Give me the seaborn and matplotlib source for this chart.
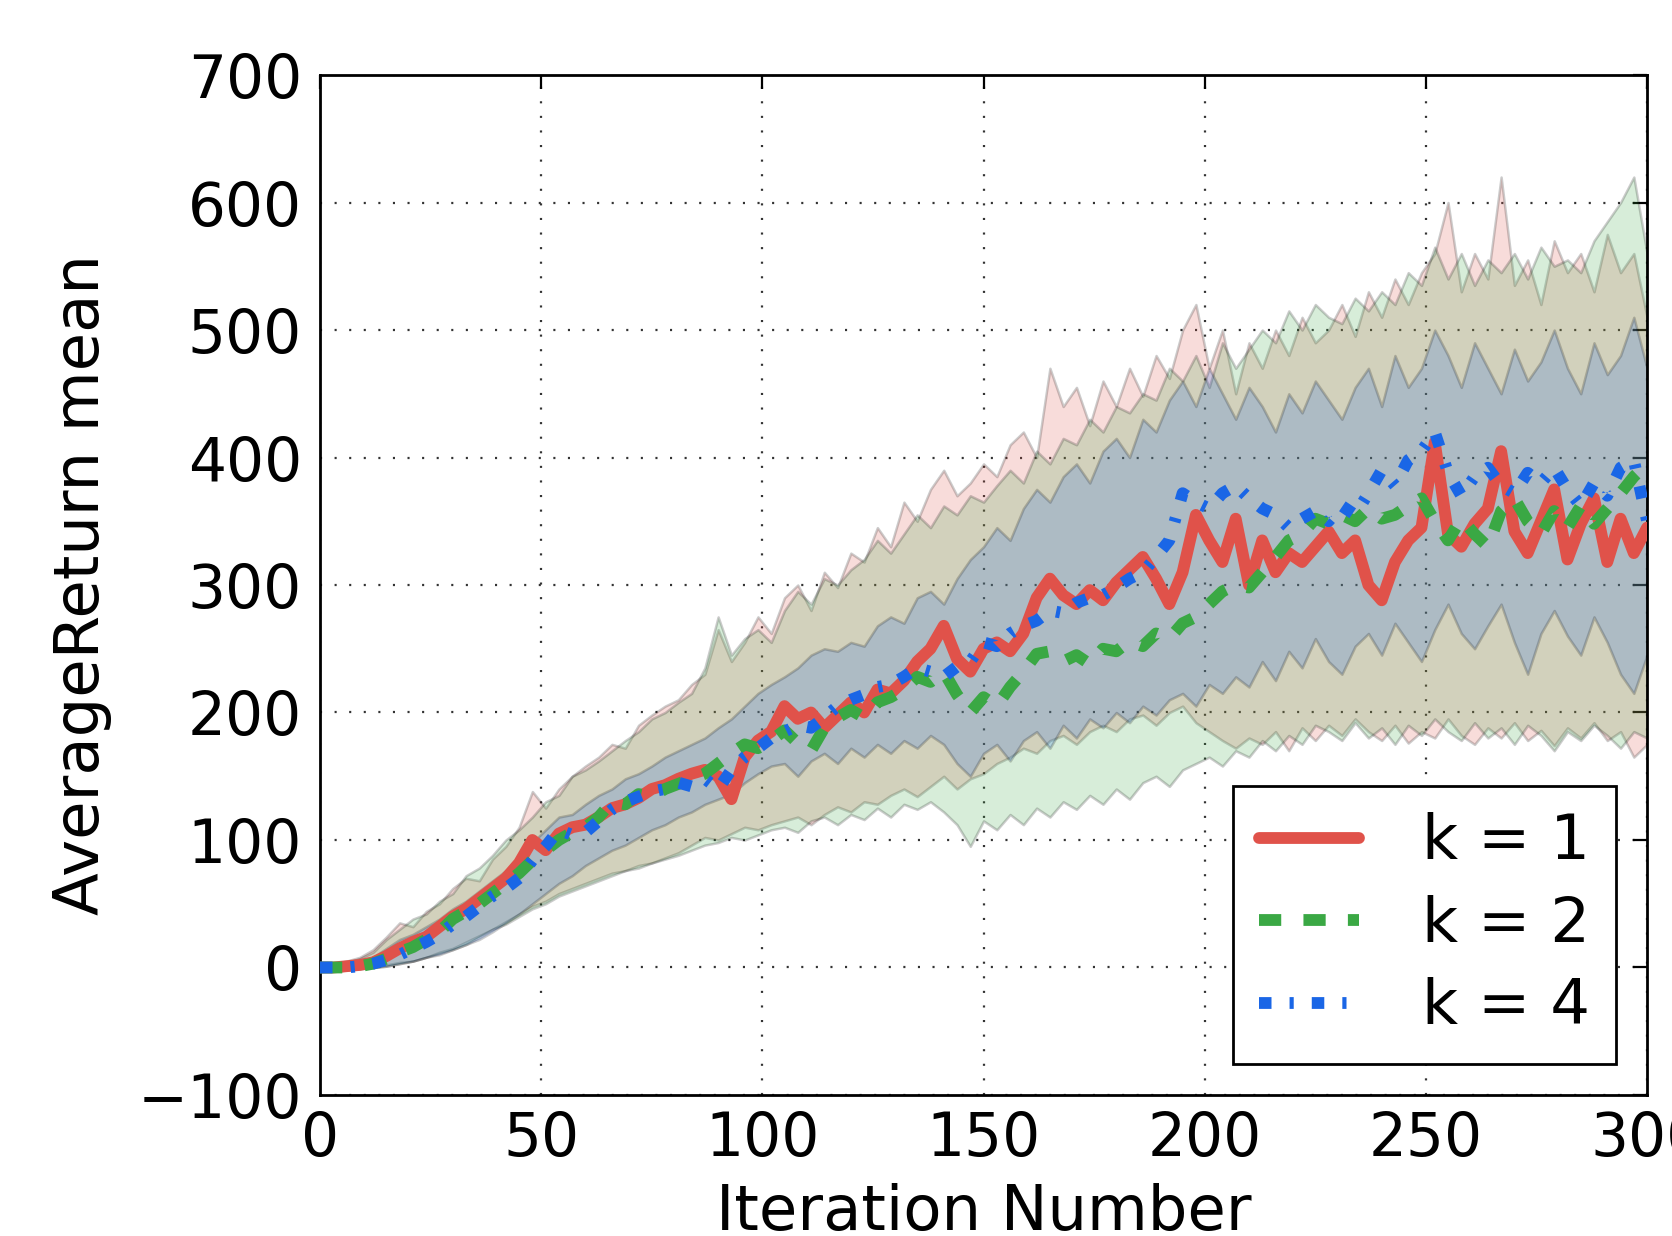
import matplotlib
matplotlib.use("Agg")
import matplotlib.pyplot as plt
import numpy as np
import pandas as pd
import seaborn as sns

# ---------------- data (every 3 iterations) ----------------
iterations = list(range(0, 301, 3))

k1_mean = [0, 0, 1, 2, 4, 9, 15, 20, 24, 32,
           40, 46, 54, 62, 70, 82, 100, 92, 105, 110,
           112, 118, 125, 128, 133, 140, 143, 148, 152, 155,
           150, 132, 165, 178, 185, 205, 195, 200, 188, 198,
           208, 200, 218, 215, 225, 240, 250, 268, 242, 232,
           250, 255, 248, 262, 290, 305, 292, 285, 296, 288,
           302, 312, 322, 305, 285, 310, 355, 335, 318, 352,
           300, 335, 310, 325, 318, 330, 342, 325, 335, 300,
           288, 318, 335, 345, 412, 340, 330, 348, 360, 405,
           342, 325, 350, 375, 320, 348, 368, 318, 352, 325,
           345]
k2_mean = [0, 0, 0, 1, 3, 7, 12, 16, 22, 28,
           38, 44, 50, 58, 66, 74, 84, 92, 100, 106,
           110, 118, 130, 128, 136, 134, 140, 144, 148, 152,
           160, 168, 175, 172, 178, 186, 176, 170, 188, 196,
           202, 196, 208, 212, 218, 228, 224, 232, 214, 200,
           212, 205, 220, 232, 246, 248, 240, 245, 238, 250,
           248, 256, 252, 262, 258, 270, 275, 285, 295, 300,
           298, 310, 322, 335, 340, 352, 348, 355, 350, 360,
           352, 355, 362, 368, 350, 335, 352, 340, 330, 358,
           368, 350, 340, 358, 345, 362, 348, 360, 372, 385,
           395]
k4_mean = [0, 0, 0, 1, 3, 6, 10, 15, 20, 26,
           34, 40, 48, 56, 62, 70, 84, 95, 108, 104,
           106, 115, 124, 130, 134, 138, 140, 145, 142, 148,
           140, 155, 165, 172, 180, 185, 190, 188, 196, 205,
           210, 214, 220, 222, 228, 235, 232, 228, 236, 240,
           255, 252, 262, 268, 272, 280, 278, 286, 290, 292,
           298, 305, 310, 322, 335, 372, 365, 360, 372, 378,
           368, 360, 355, 345, 352, 358, 350, 362, 355, 372,
           390, 378, 398, 405, 420, 388, 370, 385, 392, 378,
           372, 388, 380, 392, 375, 362, 380, 370, 392, 398,
           350]

k1_upper = [2, 3, 5, 8, 14, 24, 35, 32, 44, 50,
            62, 70, 68, 85, 95, 110, 138, 125, 140, 150,
            158, 165, 175, 172, 190, 198, 205, 210, 222, 230,
            265, 240, 255, 275, 262, 290, 300, 280, 310, 298,
            325, 318, 345, 330, 365, 350, 375, 390, 370, 380,
            395, 385, 410, 420, 400, 470, 440, 455, 425, 460,
            440, 470, 448, 480, 462, 500, 520, 470, 500, 450,
            490, 470, 500, 480, 510, 490, 500, 520, 495, 530,
            510, 540, 520, 545, 560, 600, 530, 560, 540, 620,
            535, 555, 520, 570, 545, 560, 530, 575, 545, 560,
            510]
k1_lower = [-3, -3, -2, -1, 0, 2, 4, 5, 8, 12,
            15, 20, 25, 30, 36, 42, 48, 52, 58, 62,
            66, 70, 74, 76, 80, 82, 86, 90, 96, 102,
            100, 105, 110, 108, 112, 115, 118, 112, 120, 126,
            122, 130, 128, 135, 140, 134, 142, 150, 140, 148,
            152, 160, 165, 172, 168, 178, 182, 175, 185, 190,
            185, 195, 198, 190, 200, 205, 192, 185, 178, 172,
            180, 175, 185, 170, 188, 178, 190, 182, 195, 185,
            178, 190, 176, 185, 180, 195, 182, 175, 188, 180,
            192, 178, 186, 174, 188, 180, 192, 178, 185, 165,
            175]
k2_upper = [2, 3, 4, 7, 12, 22, 30, 38, 42, 52,
            58, 72, 78, 88, 100, 108, 118, 130, 135, 150,
            155, 162, 170, 178, 185, 195, 200, 208, 215, 235,
            275, 245, 258, 265, 255, 280, 295, 285, 305, 300,
            312, 320, 335, 325, 340, 355, 345, 362, 355, 370,
            365, 378, 390, 380, 405, 395, 415, 410, 430, 420,
            440, 435, 450, 445, 470, 460, 480, 455, 490, 470,
            485, 500, 490, 515, 500, 520, 510, 505, 525, 515,
            530, 520, 545, 535, 565, 540, 560, 535, 555, 545,
            560, 540, 565, 550, 555, 545, 570, 585, 600, 620,
            560]
k2_lower = [-3, -3, -2, -1, 0, 1, 3, 5, 8, 11,
            14, 18, 24, 30, 34, 40, 46, 50, 56, 60,
            64, 68, 72, 76, 78, 82, 85, 88, 92, 96,
            98, 102, 100, 104, 108, 110, 106, 115, 118, 112,
            120, 116, 125, 118, 128, 124, 130, 122, 112, 95,
            115, 108, 120, 112, 125, 118, 130, 124, 135, 128,
            140, 132, 145, 150, 142, 155, 160, 165, 158, 170,
            165, 178, 170, 182, 175, 190, 185, 178, 192, 180,
            188, 175, 190, 182, 195, 185, 178, 192, 180, 188,
            175, 190, 182, 170, 185, 178, 190, 182, 172, 185,
            180]
k4_upper = [1, 2, 3, 5, 8, 15, 22, 26, 32, 38,
            46, 52, 60, 68, 76, 85, 98, 108, 118, 120,
            128, 135, 140, 148, 152, 158, 165, 170, 175, 180,
            188, 195, 205, 215, 222, 228, 235, 245, 250, 248,
            255, 252, 268, 275, 270, 290, 295, 285, 305, 320,
            330, 345, 335, 360, 375, 365, 385, 395, 380, 405,
            415, 400, 430, 420, 445, 460, 440, 470, 450, 430,
            455, 440, 420, 450, 435, 460, 445, 430, 455, 470,
            440, 480, 455, 470, 500, 480, 455, 490, 470, 450,
            485, 460, 475, 500, 470, 450, 490, 465, 480, 510,
            470]
k4_lower = [-2, -2, -1, 0, 0, 1, 3, 5, 8, 10,
            14, 18, 22, 28, 35, 42, 50, 58, 66, 72,
            80, 86, 92, 96, 102, 108, 112, 118, 122, 128,
            132, 136, 145, 152, 158, 160, 150, 162, 168, 160,
            172, 165, 175, 168, 178, 172, 182, 175, 160, 150,
            168, 175, 162, 178, 185, 172, 190, 180, 195, 188,
            200, 192, 205, 198, 210, 215, 205, 222, 215, 228,
            220, 240, 225, 248, 235, 258, 240, 230, 252, 262,
            245, 270, 255, 240, 265, 285, 262, 250, 268, 285,
            255, 230, 262, 280, 260, 245, 275, 255, 230, 215,
            245]

labels = ["k = 1", "k = 2", "k = 4"]
colors = ["#e0524a", "#3aa844", "#1a66e6"]

# ---------------- style ----------------
sns.set_style("white")
plt.rcParams["font.family"] = ["DejaVu Sans"]
plt.rcParams["lines.scale_dashes"] = False
for key in ["text.color", "axes.labelcolor", "xtick.color", "ytick.color"]:
    plt.rcParams[key] = "black"

frames = []
for lab, m, lo, up in zip(labels,
                          [k1_mean, k2_mean, k4_mean],
                          [k1_lower, k2_lower, k4_lower],
                          [k1_upper, k2_upper, k4_upper]):
    frames.append(pd.DataFrame({"Iteration": iterations, "mean": m,
                                "lower": lo, "upper": up, "k": lab}))
df = pd.concat(frames, ignore_index=True)

fig = plt.figure(figsize=(16.72, 12.36), dpi=100)
ax = fig.add_axes([0.1914, 0.1141, 0.7937, 0.8252])

# bands
for lab, c in zip(labels, colors):
    d = df[df.k == lab]
    ax.fill_between(d["Iteration"], d["lower"], d["upper"], facecolor=c,
                    edgecolor="black", linewidth=1.8, alpha=0.2, zorder=2)

styles = ["-", (0, (16, 16)), (0, (9, 13, 3, 13))]
for lab, c, ls in zip(labels, colors, styles):
    d = df[df.k == lab]
    sns.lineplot(data=d, x="Iteration", y="mean", color=c, lw=8.5,
                 linestyle=ls, label=lab, ax=ax, zorder=3)

ax.set_xlim(0, 300)
ax.set_ylim(-100, 700)
ax.set_xticks(range(0, 301, 50))
ax.set_yticks(range(-100, 701, 100))

ax.grid(True, color="0.2", linestyle=(0, (1.5, 9)), linewidth=1.6)
ax.set_axisbelow(True)

for s in ax.spines.values():
    s.set_visible(True)
    s.set_color("black")
    s.set_linewidth(2)

ax.tick_params(axis="both", which="major", direction="in", length=10, width=1.6,
               labelsize=43, top=True, right=True, color="black")
ax.tick_params(axis="x", pad=11)
ax.tick_params(axis="y", pad=13)

ax.set_xlabel("Iteration Number", fontsize=45, labelpad=10)
ax.set_ylabel("AverageReturn mean", fontsize=45, labelpad=18)

leg = ax.legend(loc="lower right", fontsize=45, frameon=True, fancybox=False,
                framealpha=1, edgecolor="black", borderaxespad=0.5,
                handlelength=1.6, handletextpad=1.0, labelspacing=0.36,
                borderpad=0.42)
leg.get_frame().set_linewidth(2)

fig.savefig("out.png", dpi=100)
